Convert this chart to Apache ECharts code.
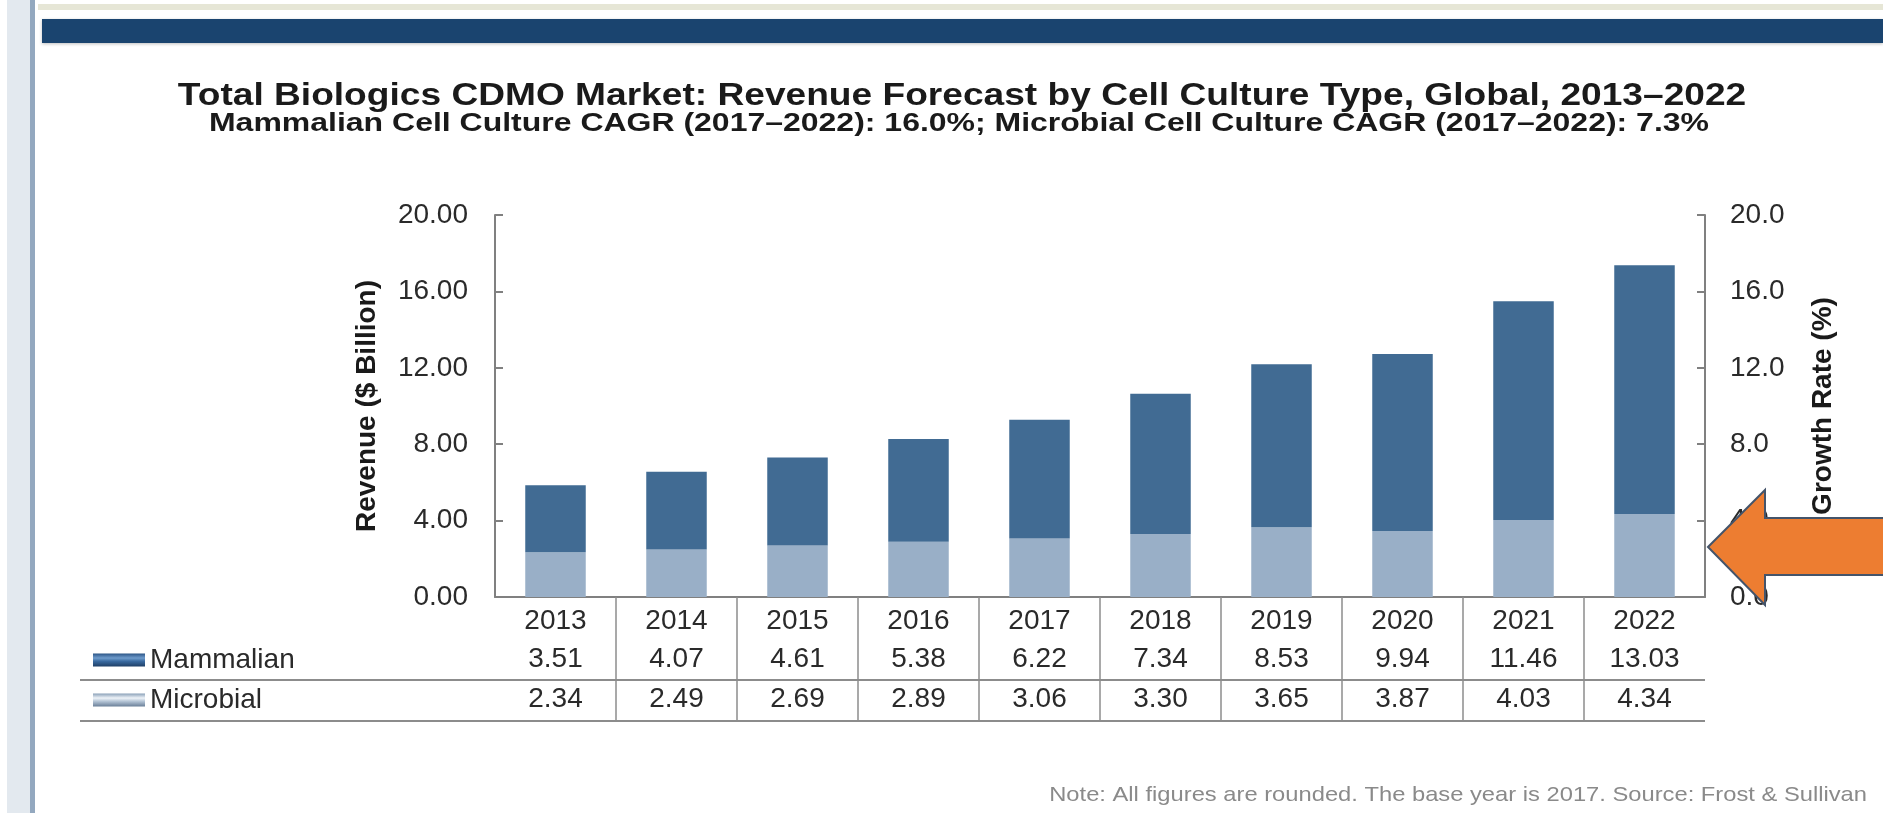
<!DOCTYPE html>
<html>
<head>
<meta charset="utf-8">
<script src="https://cdn.jsdelivr.net/npm/echarts@6/dist/echarts.min.js"></script>
<style>
html,body{margin:0;padding:0;background:#fff;}
#c{width:1883px;height:813px;}
</style>
</head>
<body>
<div id="c"></div>
<script>
// categories
const years = ['2013','2014','2015','2016','2017','2018','2019','2020','2021','2022'];
// bar heights as drawn in the picture
const mammalianBars = [3.51,4.07,4.61,5.38,6.22,7.34,8.53,9.26,11.46,13.03];
const microbialBars = [2.34,2.49,2.69,2.89,3.06,3.30,3.65,3.46,4.03,4.34];
// values printed in the data table under the axis
const mammalianTable = ['3.51','4.07','4.61','5.38','6.22','7.34','8.53','9.94','11.46','13.03'];
const microbialTable = ['2.34','2.49','2.69','2.89','3.06','3.30','3.65','3.87','4.03','4.34'];
// axis ticks
const leftTicks = {min:0, max:20, interval:4};
const rightTicks = {min:0, max:20, interval:4};

const titleText = 'Total Biologics CDMO Market: Revenue Forecast by Cell Culture Type, Global, 2013\u20132022';
const subtitleText = 'Mammalian Cell Culture CAGR (2017\u20132022): 16.0%; Microbial Cell Culture CAGR (2017\u20132022): 7.3%';
const noteText = 'Note: All figures are rounded. The base year is 2017. Source: Frost & Sullivan';

const FONT = '"Liberation Sans", Arial, sans-serif';
const chart = echarts.init(document.getElementById('c'));

const grid = {left:495, right:178, top:215, bottom:216};

const option = {
  backgroundColor:'#ffffff',
  animation:false,
  textStyle:{fontFamily:FONT},
  legend:{
    orient:'vertical', left:88, top:641,
    itemWidth:52, itemHeight:13, itemGap:12,
    textStyle:{fontFamily:FONT, fontSize:28, color:'#2a2a2a', lineHeight:28},
    data:[
      {name:'Mammalian', icon:'rect', itemStyle:{color:new echarts.graphic.LinearGradient(0,0,0,1,[{offset:0,color:'#2c5586'},{offset:0.35,color:'#6f9ccc'},{offset:0.6,color:'#3a6aa0'},{offset:1,color:'#1f3f66'}])}},
      {name:'Microbial', icon:'rect', itemStyle:{color:new echarts.graphic.LinearGradient(0,0,0,1,[{offset:0,color:'#8aa0b8'},{offset:0.35,color:'#eef3f8'},{offset:0.6,color:'#b5c5d6'},{offset:1,color:'#6a7f98'}])}}
    ]
  },
  grid:grid,
  xAxis:{
    type:'category', data:years,
    axisLine:{lineStyle:{color:'#808080', width:2}},
    axisTick:{show:false},
    axisLabel:{
      margin:6, interval:0,
      formatter:function(v, i){ return '{y|'+v+'}\n{m|'+mammalianTable[i]+'}\n{b|'+microbialTable[i]+'}'; },
      rich:{
        y:{fontFamily:FONT, fontSize:28, color:'#2a2a2a', lineHeight:37, height:37},
        m:{fontFamily:FONT, fontSize:28, color:'#2a2a2a', lineHeight:39, height:39},
        b:{fontFamily:FONT, fontSize:28, color:'#2a2a2a', lineHeight:41, height:41}
      }
    }
  },
  yAxis:[
    {type:'value', position:'left', min:leftTicks.min, max:leftTicks.max, interval:leftTicks.interval,
     name:'Revenue ($ Billion)', nameLocation:'middle', nameRotate:90, nameGap:114,
     nameTextStyle:{fontFamily:FONT, fontSize:28, fontWeight:'bold', color:'#1a1a1a'},
     axisLine:{show:true, lineStyle:{color:'#808080', width:2}},
     axisTick:{show:true, inside:true, length:8, lineStyle:{color:'#808080', width:2}},
     splitLine:{show:false},
     axisLabel:{margin:27, fontFamily:FONT, fontSize:28, color:'#2a2a2a', formatter:v=>v.toFixed(2)}},
    {type:'value', position:'right', min:rightTicks.min, max:rightTicks.max, interval:rightTicks.interval,
     name:'Growth Rate (%)', nameLocation:'middle', nameRotate:90, nameGap:104,
     nameTextStyle:{fontFamily:FONT, fontSize:28, fontWeight:'bold', color:'#1a1a1a', padding:[0,0,16,0]},
     axisLine:{show:true, lineStyle:{color:'#808080', width:2}},
     axisTick:{show:true, inside:true, length:8, lineStyle:{color:'#808080', width:2}},
     splitLine:{show:false},
     axisLabel:{margin:25, fontFamily:FONT, fontSize:28, color:'#2a2a2a', formatter:v=>v.toFixed(1)}}
  ],
  series:[
    {name:'Microbial', type:'bar', stack:'rev', data:microbialBars, barWidth:'50%', itemStyle:{color:'#99afc7'}},
    {name:'Mammalian', type:'bar', stack:'rev', data:mammalianBars, barWidth:'50%', itemStyle:{color:'#416b93'}}
  ]
};
chart.setOption(option);

// layout decorations (page frame, titles, table rules, arrow, note)
const W = 1883, H = 813;
const plotRight = W - grid.right;
const g = [];
g.push({type:'rect', shape:{x:7,y:0,width:23,height:H}, style:{fill:'#e3e9ef'}, z:0});
g.push({type:'rect', shape:{x:30,y:0,width:5,height:H}, style:{fill:'#93a8bf'}, z:0});
g.push({type:'rect', shape:{x:38,y:4,width:W-38,height:6}, style:{fill:'#e6e6d6'}, z:0});
g.push({type:'rect', shape:{x:42,y:19,width:W-42,height:24}, style:{fill:'#1a446f', shadowColor:'rgba(0,0,0,0.25)', shadowBlur:3, shadowOffsetY:1}, z:0});
// titles (horizontally stretched like the source image)
g.push({type:'text', x:962, y:96, scaleX:1.16, style:{text:titleText, font:'bold 32px "Liberation Sans", Arial, sans-serif', fill:'#1a1a1a', textAlign:'center', textVerticalAlign:'middle'}, z:5});
g.push({type:'text', x:959, y:124, scaleX:1.23, style:{text:subtitleText, font:'bold 26px "Liberation Sans", Arial, sans-serif', fill:'#1a1a1a', textAlign:'center', textVerticalAlign:'middle'}, z:5});
// table horizontal rules
[680, 721].forEach(function(y){
  g.push({type:'line', shape:{x1:80,y1:y,x2:plotRight,y2:y}, style:{stroke:'#8c8c8c', lineWidth:2}, z:5});
});
// vertical separators between categories
for (let i = 0; i < years.length - 1; i++) {
  const a = chart.convertToPixel({xAxisIndex:0}, years[i]);
  const b = chart.convertToPixel({xAxisIndex:0}, years[i+1]);
  const x = Math.round((a + b) / 2);
  g.push({type:'line', shape:{x1:x,y1:H-grid.bottom,x2:x,y2:721}, style:{stroke:'#8c8c8c', lineWidth:1.5}, z:5});
}
// orange arrow
g.push({type:'polygon', shape:{points:[[1708,547],[1765,490],[1765,518],[W+5,518],[W+5,575],[1765,575],[1765,605]]},
  style:{fill:'#ed7d31', stroke:'#44546a', lineWidth:2}, z:100});
// note
g.push({type:'text', x:1867, y:795, scaleX:1.13, style:{text:noteText,
  font:'21px "Liberation Sans", Arial, sans-serif', fill:'#8a8a8a', textAlign:'right', textVerticalAlign:'middle'}, z:5});
chart.setOption({graphic:g});
</script>
</body>
</html>
